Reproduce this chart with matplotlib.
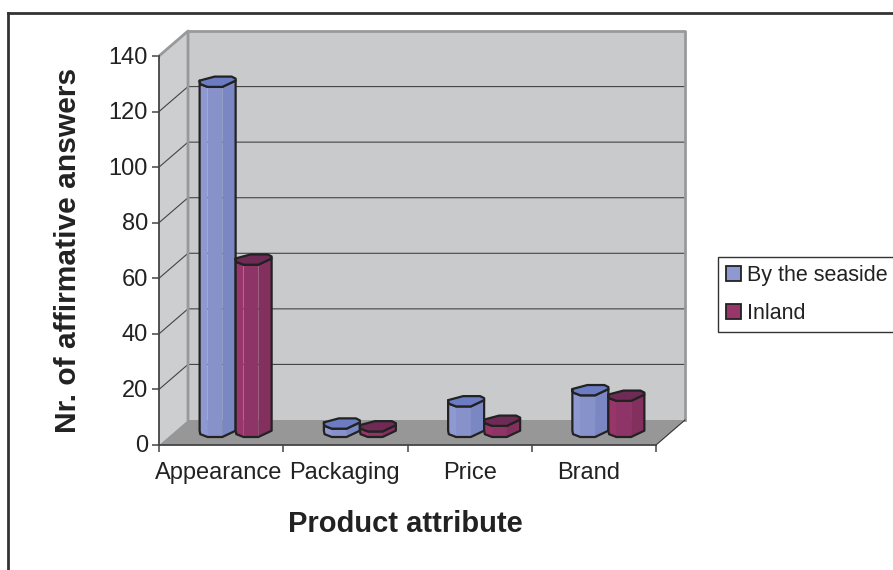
import matplotlib
matplotlib.use("Agg")
import matplotlib.pyplot as plt
from matplotlib.lines import Line2D
from matplotlib.patches import Patch, Polygon
from matplotlib.transforms import ScaledTranslation

# data
categories = ["Appearance", "Packaging", "Price", "Brand"]
seaside = [126, 3, 11, 15]
inland = [62, 2, 4, 13]
y_ticks = [0, 20, 40, 60, 80, 100, 120, 140]
series_names = ["By the seaside", "Inland"]

plt.rcParams["font.family"] = ["Liberation Sans", "DejaVu Sans"]

W, H = 893, 570
fig = plt.figure(figsize=(W / 100, H / 100), dpi=100, facecolor="white")

# axes = the front plane of the old excel 3d chart
left, right, top, bottom = 159, 656, 56, 445
ax = fig.add_axes([left / W, 1 - bottom / H, (right - left) / W, (bottom - top) / H])
ax.set_xlim(0, len(categories))
ax.set_ylim(0, 140)
ax.patch.set_alpha(0)

# pixel sizes -> data units
px_x = len(categories) / (right - left)
px_y = 140 / (bottom - top)
depth_x = 29 * px_x
depth_y = 25 * px_y


def px(dx, dy):
    # dy is measured downwards like in the picture
    return dx * px_x, -dy * px_y


# walls
xmax = len(categories)
wall_col = "#c9cacc"
ax.add_patch(Polygon([(0, 0), (depth_x, depth_y), (depth_x, 140 + depth_y), (0, 140)],
                     fc="#cdced0", ec="none", zorder=1, clip_on=False))
ax.add_patch(Polygon([(depth_x, depth_y), (xmax + depth_x, depth_y),
                      (xmax + depth_x, 140 + depth_y), (depth_x, 140 + depth_y)],
                     fc=wall_col, ec="none", zorder=1, clip_on=False))
ax.add_patch(Polygon([(0, 0), (xmax, 0), (xmax + depth_x, depth_y), (depth_x, depth_y)],
                     fc="#979797", ec="none", zorder=1, clip_on=False))

# gridlines on both walls
for v in y_ticks[1:-1]:
    ax.plot([0, depth_x, xmax + depth_x], [v, v + depth_y, v + depth_y],
            color="#444444", lw=0.8, zorder=2, clip_on=False)

# wall edges
ax.plot([0, depth_x, depth_x], [140, 140 + depth_y, depth_y], color="#999999", lw=2, zorder=2, clip_on=False)
ax.plot([depth_x, xmax + depth_x, xmax + depth_x], [140 + depth_y, 140 + depth_y, depth_y],
        color="#999999", lw=2, zorder=2, clip_on=False)
ax.plot([xmax, xmax + depth_x], [0, depth_y], color="#333333", lw=0.8, zorder=2, clip_on=False)

# octagon used for the columns, pixels from its centre for a 36px wide bar
front_pts = [(-18, -1), (-17.3, 2.5), (-10, 5.3), (4.7, 5.3), (18, -1)]
back_pts = [(18, -3), (14, -5), (-3, -5)]
blue_cols = ["#8e98d1", "#8e98d1", "#8792cb", "#7a87c2"]
red_cols = ["#983669", "#983669", "#8e3466", "#84305f"]
blue_top = "#6b7cc2"
red_top = "#6f2a56"
edge = "#222222"
bar_w = 36 * px_x
base_y = 13.3 * px_y


def column(cx, val, cols, top_col, z):
    base = base_y
    tip = base_y + val
    front = [px(*p) for p in front_pts]
    back = [px(*p) for p in back_pts]
    for i in range(len(front) - 1):
        (x0, y0), (x1, y1) = front[i], front[i + 1]
        ax.add_patch(Polygon([(cx + x0, base + y0), (cx + x1, base + y1), (cx + x1, tip + y1), (cx + x0, tip + y0)],
                             fc=cols[i], ec="none", zorder=z, clip_on=False))
    outline = [(cx + x, base + y) for x, y in front] + [(cx + x, tip + y) for x, y in reversed(front)]
    ax.add_patch(Polygon(outline, fc="none", ec=edge, lw=1.6, zorder=z + 0.1, clip_on=False, joinstyle="round"))
    cap = [(cx + x, tip + y) for x, y in front + back]
    ax.add_patch(Polygon(cap, fc=top_col, ec=edge, lw=1.6, zorder=z + 0.2, clip_on=False, joinstyle="round"))


for i in range(len(categories)):
    mid = i + 0.5 + depth_x / 2
    column(mid - bar_w / 2, seaside[i], blue_cols, blue_top, 3 + i)
    column(mid + bar_w / 2, inland[i], red_cols, red_top, 3.5 + i)

# axes and ticks
for s in ["top", "right"]:
    ax.spines[s].set_visible(False)
for s in ["left", "bottom"]:
    ax.spines[s].set_color("#444444")
    ax.spines[s].set_linewidth(1.3)
    ax.spines[s].set_zorder(2.5)
ax.set_yticks(y_ticks)
ax.set_xticks(range(len(categories) + 1))
ax.set_xticklabels([])
ax.set_xticks([i + 0.5 for i in range(len(categories))], minor=True)
ax.set_xticklabels(categories, minor=True, fontsize=17, color="#222222")
ax.tick_params(axis="x", which="minor", length=0, pad=12)
ax.tick_params(axis="x", which="major", length=5, width=1.1, color="#444444")
ax.tick_params(axis="y", length=5, width=1.1, color="#444444", labelsize=17, labelcolor="#222222", pad=3)

# labels in the original sit a little off their ticks
for lab in ax.get_yticklabels():
    lab.set_transform(lab.get_transform() + ScaledTranslation(0, 1 / 100, fig.dpi_scale_trans))
label_shift = [-2, -1, 0, -5]
for lab, s in zip(ax.get_xticklabels(minor=True), label_shift):
    lab.set_transform(lab.get_transform() + ScaledTranslation(s / 100, 0, fig.dpi_scale_trans))

ax.set_xlabel("Product attribute", fontsize=21, fontweight="bold", color="#222222", va="center")
ax.xaxis.set_label_coords(0.495, -(524 - 445) / (bottom - top))
ax.set_ylabel("Nr. of affirmative answers", fontsize=21.6, fontweight="bold", color="#222222", va="center")
ax.yaxis.set_label_coords((68 - left) / (right - left), 0.501)

# outer frame, right and bottom fall outside the image
fig.add_artist(Line2D([8 / W, 8 / W], [0, 1 - 13 / H], color="#333333", lw=2))
fig.add_artist(Line2D([8 / W, 1], [1 - 13 / H, 1 - 13 / H], color="#333333", lw=2))

# legend
handles = [Patch(fc=blue_cols[0], ec="#222222", lw=1.3), Patch(fc=red_cols[0], ec="#222222", lw=1.3)]
leg = fig.legend(handles, series_names, loc="upper left", bbox_to_anchor=(718 / W, 1 - 257 / H),
                 borderaxespad=0, fontsize=15.5, frameon=True, fancybox=False, edgecolor="#333333",
                 framealpha=1, handlelength=0.7, handleheight=0.7, handletextpad=0.28,
                 labelspacing=0.8, borderpad=0.37, labelcolor="#222222")
leg.get_frame().set_linewidth(1.0)

fig.savefig("out.png", dpi=100)
